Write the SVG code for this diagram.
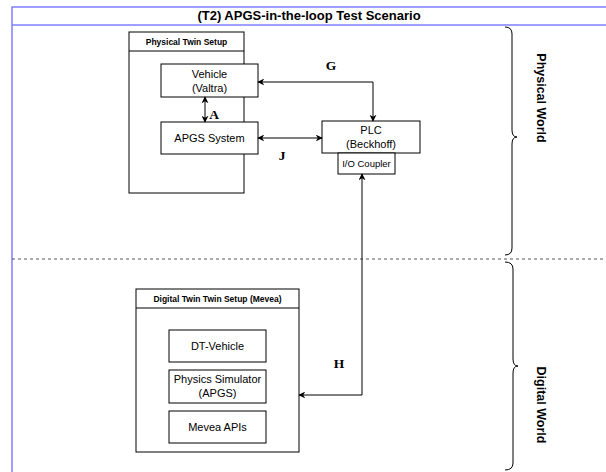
<svg xmlns="http://www.w3.org/2000/svg" width="606" height="472" viewBox="0 0 606 472">
<defs>
<style>
.frame{fill:none;stroke:#7f7fff;stroke-width:1.5}
.box{fill:#fff;stroke:#000;stroke-width:1}
.t{font-family:"Liberation Sans",Arial,sans-serif;font-size:11px;fill:#000;text-anchor:middle}
.small{font-size:9.5px}
.hdr{font-family:"Liberation Sans",Arial,sans-serif;font-size:8.5px;font-weight:bold;fill:#000;text-anchor:middle}
.lbl{font-family:"Liberation Serif","Times New Roman",serif;font-size:13.5px;font-weight:bold;fill:#000;text-anchor:middle}
.world{font-family:"Liberation Sans",Arial,sans-serif;font-size:12.5px;font-weight:bold;fill:#000;text-anchor:middle;dominant-baseline:central}
.conn{fill:none;stroke:#000;stroke-width:1}
.brace{fill:none;stroke:#000;stroke-width:1}
</style>
<marker id="ah" viewBox="0 0 10 10" refX="9" refY="5" markerWidth="7" markerHeight="7" orient="auto-start-reverse" markerUnits="userSpaceOnUse">
<path d="M0,0 L10,5 L0,10 L3,5 z" fill="#000"/>
</marker>
</defs>
<rect width="606" height="472" fill="#fff"/>

<g id="frame">
<rect class="frame" x="12" y="7" width="600" height="480"/>
<line class="frame" x1="12" y1="25" x2="612" y2="25"/>
<text x="309" y="20" font-family="'Liberation Sans',Arial,sans-serif" font-size="13" font-weight="bold" text-anchor="middle">(T2) APGS-in-the-loop Test Scenario</text>
<line x1="12" y1="259" x2="606" y2="259" stroke="#555" stroke-width="1" stroke-dasharray="3,3"/>
</g>

<g id="physical-twin-setup">
<rect class="box" x="129" y="32" width="115" height="161"/>
<line x1="129" y1="51" x2="244" y2="51" stroke="#000"/>
<text class="hdr" x="186.5" y="45">Physical Twin Setup</text>
</g>
<g id="vehicle">
<rect class="box" x="161" y="64" width="97" height="33"/>
<text class="t" x="209.5" y="78">Vehicle</text>
<text class="t" x="209.5" y="92">(Valtra)</text>
</g>
<g id="apgs-system">
<rect class="box" x="161" y="122" width="97" height="32"/>
<text class="t" x="209.5" y="142">APGS System</text>
</g>
<g id="plc">
<rect class="box" x="322" y="121" width="98" height="32"/>
<text class="t" x="371" y="134">PLC</text>
<text class="t" x="371" y="148">(Beckhoff)</text>
</g>
<g id="io-coupler">
<rect class="box" x="338" y="153" width="57" height="21"/>
<text class="t small" x="366.5" y="167">I/O Coupler</text>
</g>

<g id="digital-twin-setup">
<rect class="box" x="136" y="289" width="163" height="163"/>
<line x1="136" y1="308" x2="299" y2="308" stroke="#000"/>
<text class="hdr" x="217.5" y="302">Digital Twin Twin Setup (Mevea)</text>
</g>
<g id="dt-vehicle">
<rect class="box" x="169" y="330" width="97" height="32"/>
<text class="t" x="217.5" y="350">DT-Vehicle</text>
</g>
<g id="physics-simulator">
<rect class="box" x="169" y="370" width="97" height="33"/>
<text class="t" x="217.5" y="383">Physics Simulator</text>
<text class="t" x="217.5" y="397">(APGS)</text>
</g>
<g id="mevea-apis">
<rect class="box" x="169" y="411" width="97" height="32"/>
<text class="t" x="217.5" y="431">Mevea APIs</text>
</g>

<g id="connectors">
<line class="conn" x1="205" y1="97" x2="205" y2="122" marker-start="url(#ah)" marker-end="url(#ah)"/>
<path class="conn" d="M258,82 L373,82 L373,121" marker-start="url(#ah)" marker-end="url(#ah)"/>
<line class="conn" x1="258" y1="138" x2="322" y2="138" marker-start="url(#ah)" marker-end="url(#ah)"/>
<path class="conn" d="M362,174 L362,395 L299,395" marker-start="url(#ah)" marker-end="url(#ah)"/>
<text class="lbl" x="214" y="119">A</text>
<text class="lbl" x="331" y="70">G</text>
<text class="lbl" x="282" y="160">J</text>
<text class="lbl" x="339" y="368">H</text>
</g>

<g id="physical-world">
<path class="brace" d="M505,27 Q512,27 512,34 L512,130 Q512,137 517,137 Q512,137 512,144 L512,248 Q512,255 505,255"/>
<text class="world" transform="translate(541,98) rotate(90)">Physical World</text>
</g>
<g id="digital-world">
<path class="brace" d="M505,262 Q513,262 513,269 L513,359 Q513,366 518,366 Q513,366 513,373 L513,463 Q513,470 505,470"/>
<text class="world" transform="translate(541,405) rotate(90)">Digital World</text>
</g>
</svg>
